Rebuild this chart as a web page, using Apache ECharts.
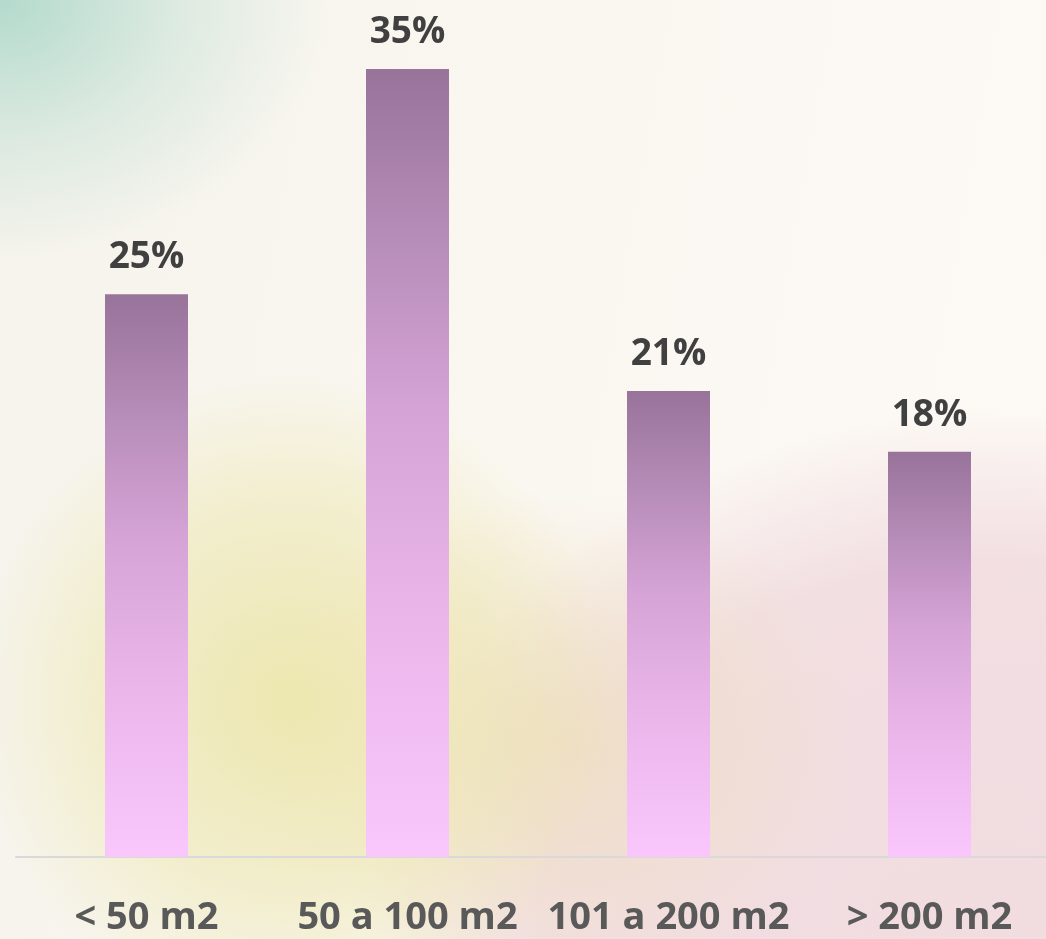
<!DOCTYPE html>
<html>
<head>
<meta charset="utf-8">
<script src="https://cdn.jsdelivr.net/npm/echarts@6/dist/echarts.min.js"></script>
<style>
  html, body {
    margin: 0;
    padding: 0;
    width: 1046px;
    height: 939px;
    overflow: hidden;
  }
  body {
    background:
      radial-gradient(ellipse 330px 260px at 0px 0px, rgba(176, 217, 203, 0.95), rgba(176, 217, 203, 0.35) 55%, rgba(176, 217, 203, 0) 100%),
      radial-gradient(ellipse 320px 330px at 290px 700px, rgba(236, 230, 172, 0.95), rgba(236, 230, 172, 0.5) 60%, rgba(236, 230, 172, 0) 100%),
      radial-gradient(ellipse 300px 250px at 560px 740px, rgba(238, 222, 194, 0.9), rgba(238, 222, 194, 0) 100%),
      radial-gradient(ellipse 640px 540px at 1000px 950px, rgba(241, 220, 224, 1), rgba(241, 220, 224, 0.9) 72%, rgba(241, 220, 224, 0) 100%),
      linear-gradient(100deg, #f5f3ec 0%, #faf7f1 45%, #fdf9f5 100%);
  }
  #chart {
    width: 1060px;
    height: 939px;
  }
</style>
</head>
<body>
<div id="chart"></div>
<script>
const categories = ['< 50 m2', '50 a 100 m2', '101 a 200 m2', '> 200 m2']
const shares = [25, 35, 20.7, 18]

const chart = echarts.init(document.getElementById('chart'), null, { renderer: 'canvas' })

const labelFont = '"Open Sans", "Noto Sans", sans-serif'

const option = {
  backgroundColor: 'transparent',
  animation: false,
  grid: {
    left: 16,
    right: 0,
    top: 69,
    height: 788
  },
  xAxis: {
    type: 'category',
    data: categories,
    axisTick: { show: false },
    axisLine: {
      lineStyle: { color: '#d9d9d9', width: 2 }
    },
    axisLabel: {
      interval: 0,
      margin: 42,
      color: '#595959',
      fontSize: 38,
      fontWeight: 'bold',
      fontFamily: labelFont
    }
  },
  yAxis: {
    type: 'value',
    min: 0,
    max: 35,
    show: false,
    splitLine: { show: false }
  },
  series: [
    {
      type: 'bar',
      data: shares,
      barWidth: 83,
      itemStyle: {
        color: new echarts.graphic.LinearGradient(0, 0, 0, 1, [
          { offset: 0, color: '#98739a' },
          { offset: 0.2, color: '#b48bb6' },
          { offset: 0.43, color: '#d5a3d6' },
          { offset: 0.66, color: '#e8b4e8' },
          { offset: 1, color: '#fac7fd' }
        ])
      },
      label: {
        show: true,
        position: 'top',
        distance: 18,
        formatter: p => Math.round(p.value) + '%',
        color: '#404040',
        fontSize: 37,
        fontWeight: 'bold',
        fontFamily: labelFont
      }
    }
  ]
}

chart.setOption(option)
</script>
</body>
</html>
